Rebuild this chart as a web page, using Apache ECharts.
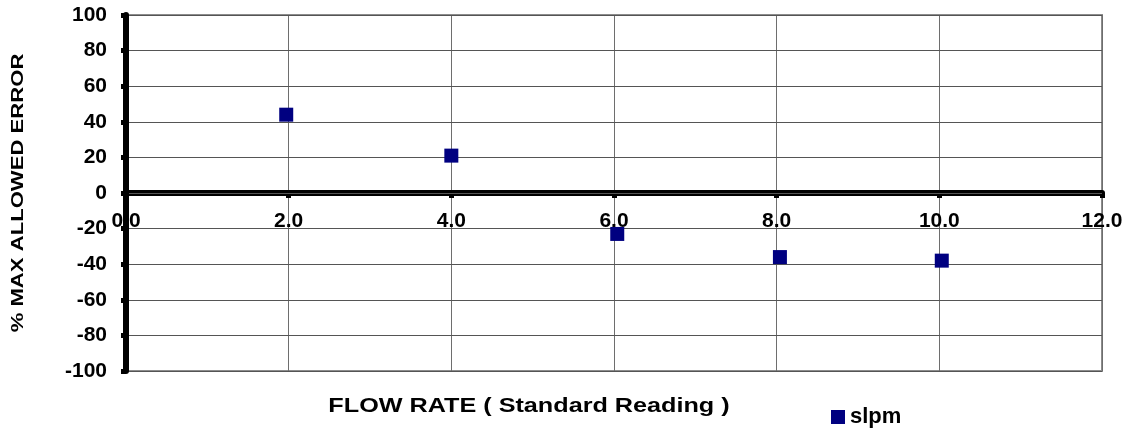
<!DOCTYPE html>
<html>
<head>
<meta charset="utf-8">
<script src="https://cdn.jsdelivr.net/npm/echarts@6/dist/echarts.min.js"></script>
<style>
  html, body { margin: 0; padding: 0; background: #fff; }
  #chart { width: 1128px; height: 433px; }
</style>
</head>
<body>
<div id="chart"></div>
<script>
// Flow-rate calibration readings (slpm) and their error as % of max allowed
const flowRate = [1.97, 4.0, 6.04, 8.04, 10.03];
const pctError = [44, 21, -23, -36, -38];
const seriesName = 'slpm';
const xTitle = 'FLOW RATE ( Standard Reading )';
const yTitle = '% MAX ALLOWED ERROR';

const FONT = '"Liberation Sans", Arial, sans-serif';

// plot box
const GRID = { left: 126, top: 15, width: 976, height: 356 };
const Y_MIN = -100, Y_MAX = 100;
// the x axis (with its labels) sits on the y = 0 line
const xAxisShift = -GRID.height * (0 - Y_MIN) / (Y_MAX - Y_MIN);

const chart = echarts.init(document.getElementById('chart'), null, { renderer: 'canvas' });

chart.setOption({
  animation: false,
  backgroundColor: '#ffffff',
  grid: Object.assign({
    show: true, borderColor: '#8c8c8c', borderWidth: 2, backgroundColor: 'transparent'
  }, GRID),
  xAxis: {
    type: 'value', min: 0, max: 12, interval: 2, z: 2,
    offset: xAxisShift,
    axisLine: { onZero: false, lineStyle: { color: '#000', width: 6 } },
    axisTick: { show: true, length: 5, lineStyle: { color: '#000', width: 5 } },
    axisLabel: {
      margin: 18, color: '#000', fontFamily: FONT, fontWeight: 'bold', fontSize: 21,
      formatter: v => v.toFixed(1)
    },
    splitLine: { show: true, lineStyle: { color: '#6e6e6e', width: 1 } }
  },
  yAxis: {
    type: 'value', min: Y_MIN, max: Y_MAX, interval: 20, z: 3,
    axisLine: { lineStyle: { color: '#000', width: 6 } },
    axisTick: { show: true, length: 5, lineStyle: { color: '#000', width: 5 } },
    axisLabel: { margin: 19, color: '#000', fontFamily: FONT, fontWeight: 'bold', fontSize: 21 },
    splitLine: { show: true, lineStyle: { color: '#555', width: 1 } }
  },
  legend: {
    left: 826, top: 401, itemWidth: 14, itemHeight: 14, itemGap: 10,
    icon: 'rect',
    textStyle: { color: '#000', fontFamily: FONT, fontWeight: 'bold', fontSize: 22 },
    data: [seriesName]
  },
  graphic: [
    {
      type: 'text', x: 18, y: 193, rotation: Math.PI / 2, scaleX: 1.3,
      style: {
        text: yTitle, fill: '#000', font: 'bold 17px ' + FONT,
        textAlign: 'center', textVerticalAlign: 'middle'
      }
    },
    {
      type: 'text', x: 529, y: 406, scaleX: 1.2,
      style: {
        text: xTitle, fill: '#000', font: 'bold 21px ' + FONT,
        textAlign: 'center', textVerticalAlign: 'middle'
      }
    }
  ],
  series: [{
    name: seriesName,
    type: 'scatter',
    symbol: 'rect',
    symbolSize: 14,
    itemStyle: { color: '#000080', opacity: 1 },
    z: 5,
    data: flowRate.map((x, i) => [x, pctError[i]])
  }]
});
</script>
</body>
</html>
